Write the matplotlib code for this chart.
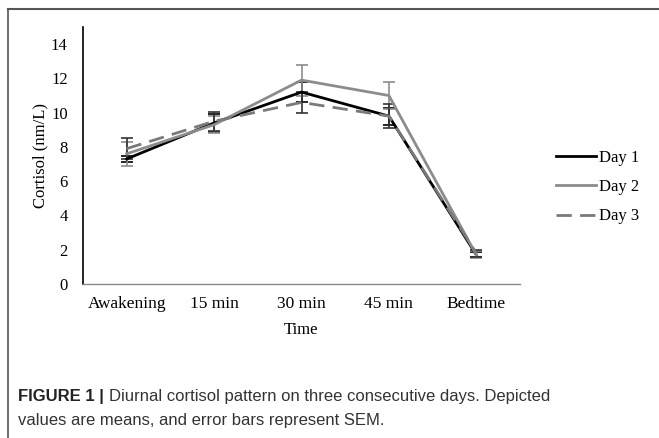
import matplotlib
matplotlib.use("Agg")
import matplotlib.pyplot as plt
from matplotlib.lines import Line2D

categories = ["Awakening", "15 min", "30 min", "45 min", "Bedtime"]
day1 = [7.3, 9.4, 11.2, 9.8, 1.7]
day2 = [7.6, 9.3, 11.9, 11.0, 1.7]
day3 = [7.9, 9.5, 10.6, 9.8, 1.8]
day1_err = [0.2, 0.55, 0.6, 0.5, 0.15]
day2_err = [0.7, 0.5, 0.9, 0.8, 0.2]
day3_err = [0.6, 0.55, 0.6, 0.7, 0.2]
yticks = [0, 2, 4, 6, 8, 10, 12, 14]

W, H = 659, 438
fig = plt.figure(figsize=(W/100, H/100), dpi=100)
ax = fig.add_axes([83/W, 1-284/H, (520-83)/W, (284-27)/H])

x = [i + 0.5 for i in range(len(categories))]
serif = "Liberation Serif"
fs = 12.5

series = [
    ("Day 1", day1, day1_err, "#000000", "-"),
    ("Day 2", day2, day2_err, "#8c8c8c", "-"),
    ("Day 3", day3, day3_err, "#7a7a7a", (0, (5.5, 3))),
]
handles = []
for name, vals, err, col, ls in series:
    ax.errorbar(x, vals, yerr=err, color=col, ecolor=col if name != "Day 3" else "#333333",
                elinewidth=1.2, capsize=4, capthick=1.2, linewidth=2.0, linestyle=ls, zorder=3)
    handles.append(Line2D([0], [0], color=col, linewidth=2.0, linestyle=ls))

ax.set_xlim(0, 5)
ax.set_ylim(0, 15)
ax.set_yticks(yticks)
ax.set_xticks(x)
ax.set_xticklabels(categories, fontfamily=serif, fontsize=fs)
ax.set_yticklabels([str(t) for t in yticks], fontfamily=serif, fontsize=12)
ax.tick_params(axis="y", length=0, pad=11)
ax.tick_params(axis="x", length=0, pad=9)
for s in ["top", "right"]:
    ax.spines[s].set_visible(False)
ax.spines["left"].set_color("#000000")
ax.spines["left"].set_linewidth(1.2)
ax.spines["bottom"].set_color("#8a8a8a")
ax.spines["bottom"].set_linewidth(1.0)
ax.set_ylabel("Cortisol (nm/L)", fontfamily=serif, fontsize=12, labelpad=2)
ax.set_xlabel("Time", fontfamily=serif, fontsize=12, labelpad=7)

leg = fig.legend(handles, ["Day 1", "Day 2", "Day 3"], loc="center left",
                 bbox_to_anchor=(548/W, 1-187/H), frameon=False, borderpad=0,
                 prop={"family": serif, "size": 12}, handlelength=2.4,
                 handletextpad=0.15, labelspacing=0.8)

# frame lines
fig.add_artist(Line2D([8/W, 8/W], [0, 1-9/H], color="#555555", linewidth=1.2))
fig.add_artist(Line2D([8/W, 1], [1-9/H, 1-9/H], color="#555555", linewidth=1.5))

cfs = 12
t1 = fig.text(18/W, 1-397/H, "FIGURE 1 |", fontfamily="Liberation Sans", fontsize=cfs,
              fontweight="bold", va="center", ha="left", color="#222222")
fig.canvas.draw()
bb = t1.get_window_extent()
fig.text((bb.x1 + 5)/W, 1-397/H, "Diurnal cortisol pattern on three consecutive days. Depicted",
         fontfamily="Liberation Sans", fontsize=cfs, va="center", ha="left", color="#333333")
fig.text(18/W, 1-421/H, "values are means, and error bars represent SEM.",
         fontfamily="Liberation Sans", fontsize=cfs, va="center", ha="left", color="#333333")

fig.savefig("out.png", dpi=100)
